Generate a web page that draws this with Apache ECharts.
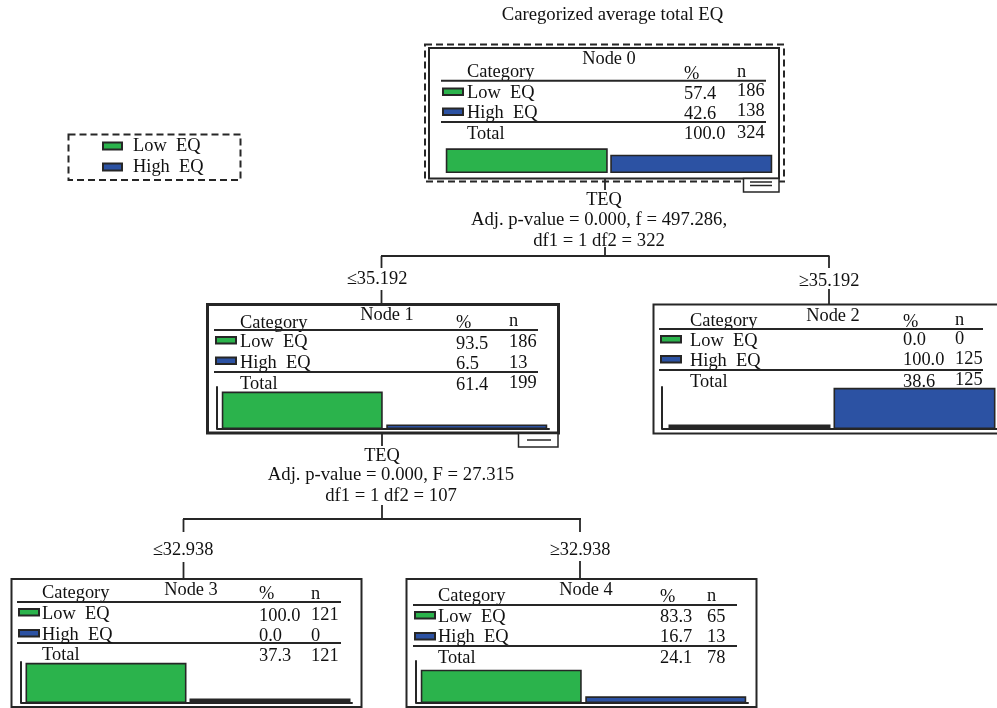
<!DOCTYPE html>
<html><head><meta charset="utf-8">
<style>html,body{margin:0;padding:0;background:#fff}#c{width:997px;height:708px}</style>
<script src="https://cdn.jsdelivr.net/npm/echarts@6/dist/echarts.min.js"></script>
</head><body><div id="c"></div>
<script>
// ---- data ----
const chartTitle = 'Caregorized average total EQ';
const categories = ['Low  EQ', 'High  EQ'];
const nodeNames = ['Node 0', 'Node 1', 'Node 2', 'Node 3', 'Node 4'];
const lowPct = [57.4, 93.5, 0.0, 100.0, 83.3];
const highPct = [42.6, 6.5, 100.0, 0.0, 16.7];
const lowN = [186, 186, 0, 121, 65];
const highN = [138, 13, 125, 0, 13];
const totalPct = [100.0, 61.4, 38.6, 37.3, 24.1];
const totalN = [324, 199, 125, 121, 78];
const splitLabels = ['\u226435.192', '\u226535.192', '\u226432.938', '\u226532.938'];
const splitVar = ['TEQ', 'TEQ'];
const splitStatA = ['Adj. p-value = 0.000, f = 497.286,', 'Adj. p-value = 0.000, F = 27.315'];
const splitStatB = ['df1 = 1 df2 = 322', 'df1 = 1 df2 = 107'];

// ---- layout and style ----
const GREEN = '#2bb34c', BLUE = '#2c52a3', INK = '#262626', TEXT = '#111', FONT = '"Liberation Serif","Times New Roman",serif';
const FS = 18.4;
const L = [
 {box:[429,48,350,130.5],lw:2,title:[609,58],cat:467,pc:684,nn:737,swX:443,head:[71,73,71],
  line:[80.7,122,441,766],low:[92,93,90],high:[112,113,110],tot:[133,133,132],sw:[88.5,108.5],
  grid:[444.5,130,329,43],ymax:100,bw:162,axis:null},
 {box:[207.5,304.5,351,128.5],lw:3,title:[387,314],cat:240,pc:456,nn:509,swX:216,head:[322,322,320],
  line:[330,372,214,538],low:[341,343,341],high:[362,363,362],tot:[383,384,382],sw:[337,357.5],
  grid:[220,387,329,42],ymax:105,bw:161,axis:3},
 {box:[653.5,304.5,352,129],lw:2,title:[833,315],cat:690,pc:903,nn:955,swX:661,head:[320,321,319],
  line:[329,370,659,983],low:[340,339,338],high:[360,359,358],tot:[381,381,379],sw:[336,356],
  grid:[667,387,332,42],ymax:102,bw:162,axis:5},
 {box:[11.5,579,350,128],lw:2,title:[191,589],cat:42,pc:259,nn:311,swX:19,head:[592,593,593],
  line:[602,643,17,341],low:[613,615,614],high:[634,635,635],tot:[654,655,655],sw:[609,630],
  grid:[24,662,328,41],ymax:102,bw:161,axis:3},
 {box:[406.5,579,350,128],lw:2,title:[586,589],cat:438,pc:660,nn:707,swX:415,head:[595,596,595],
  line:[605,646,413,737],low:[616,616,616],high:[636,636,636],tot:[657,657,657],sw:[612,633],
  grid:[419,661,329,42],ymax:105,bw:161,axis:3}
];

function txt(text,x,y,align,size){
  return {type:'text',silent:true,style:{text:String(text),x:x,y:y+1,font:(size||FS)+'px '+FONT,fill:TEXT,
    textAlign:align||'left',textVerticalAlign:'middle',align:align||'left',verticalAlign:'middle'}};
}
function ln(x1,y1,x2,y2,w,dash){
  return {type:'line',silent:true,shape:{x1,y1,x2,y2},style:{stroke:INK,lineWidth:w||1.8,lineDash:dash||null}};
}
function rect(x,y,w,h,lw,fill,dash){
  return {type:'rect',silent:true,shape:{x:x,y:y,width:w,height:h},style:{stroke:INK,lineWidth:lw,fill:fill||'transparent',lineDash:dash||null}};
}

const g = [];
g.push(txt(chartTitle,612.5,14,'center',18.7));
L.forEach((p,i)=>{
  g.push(rect(p.box[0],p.box[1],p.box[2],p.box[3],p.lw));
  g.push(txt(nodeNames[i],p.title[0],p.title[1],'center'));
  g.push(txt('Category',p.cat,p.head[0]));
  g.push(txt('%',p.pc,p.head[1]));
  g.push(txt('n',p.nn,p.head[2]));
  g.push(ln(p.line[2],p.line[0],p.line[3],p.line[0],2));
  g.push(ln(p.line[2],p.line[1],p.line[3],p.line[1],2));
  g.push(rect(p.swX,p.sw[0],20,6.5,2,GREEN));
  g.push(rect(p.swX,p.sw[1],20,6.5,2,BLUE));
  g.push(txt(categories[0],p.cat,p.low[0]));
  g.push(txt(lowPct[i].toFixed(1),p.pc,p.low[1]));
  g.push(txt(lowN[i],p.nn,p.low[2]));
  g.push(txt(categories[1],p.cat,p.high[0]));
  g.push(txt(highPct[i].toFixed(1),p.pc,p.high[1]));
  g.push(txt(highN[i],p.nn,p.high[2]));
  g.push(txt('Total',p.cat,p.tot[0]));
  g.push(txt(totalPct[i].toFixed(1),p.pc,p.tot[1]));
  g.push(txt(totalN[i],p.nn,p.tot[2]));
  if(p.axis){ g.push(ln(p.grid[0]-p.axis,p.grid[1]+p.grid[3],p.grid[0],p.grid[1]+p.grid[3],2)); }
});
// node 0 selection frame and collapse tabs
g.push(rect(425,44.5,359,137,2,null,[7,4]));
g.push(rect(743.5,178.5,35.5,13.5,1.5,'#fff'));
g.push(ln(750,182,772,182,1.5)); g.push(ln(750,185.5,772,185.5,1.5));
g.push(rect(518.5,433.5,39.5,13.5,1.5,'#fff'));
g.push(ln(527,440,551,440,1.5));
// legend frame
g.push(rect(68.5,134.5,172,45.5,2,null,[7,4]));
// tree links
g.push(ln(605,179,605,190)); g.push(ln(605,247,605,256));
g.push(ln(381,256,829.5,256));
g.push(ln(381.5,256,381.5,268)); g.push(ln(381.5,290,381.5,304));
g.push(ln(829,256,829,268)); g.push(ln(829,289,829,304));
g.push(ln(382,433,382,446)); g.push(ln(382,505,382,519));
g.push(ln(183,519,581,519));
g.push(ln(183.5,519,183.5,532)); g.push(ln(183.5,562,183.5,579));
g.push(ln(580,519,580,532)); g.push(ln(580,561,580,579));
// split texts
g.push(txt(splitVar[0],604,199,'center'));
g.push(txt(splitStatA[0],599,219,'center',18.7));
g.push(txt(splitStatB[0],599,240,'center',18.7));
g.push(txt(splitVar[1],382,455,'center'));
g.push(txt(splitStatA[1],391,474,'center',18.7));
g.push(txt(splitStatB[1],391,495,'center',18.7));
g.push(txt(splitLabels[0],377,278,'center'));
g.push(txt(splitLabels[1],829,280,'center'));
g.push(txt(splitLabels[2],183,549,'center'));
g.push(txt(splitLabels[3],580,549,'center'));

const barStyle = c => ({color:c,borderColor:INK,borderWidth:1.6});
const barDatum = v => v === 0 ? {value:v,itemStyle:{color:INK}} : v;
const grid=[],xAxis=[],yAxis=[],series=[];
L.forEach((p,i)=>{
  grid.push({left:p.grid[0],top:p.grid[1],width:p.grid[2],height:p.grid[3],containLabel:false});
  xAxis.push({type:'category',gridIndex:i,data:categories,show:!!p.axis,
    axisLine:{show:!!p.axis,lineStyle:{color:INK,width:2}},axisTick:{show:false},axisLabel:{show:false},splitLine:{show:false}});
  yAxis.push({type:'value',gridIndex:i,min:0,max:p.ymax,show:!!p.axis,offset:p.axis||0,
    axisLine:{show:!!p.axis,lineStyle:{color:INK,width:2}},axisTick:{show:false},axisLabel:{show:false},splitLine:{show:false}});
  series.push({type:'bar',name:'Low EQ',xAxisIndex:i,yAxisIndex:i,barWidth:p.bw,barGap:'-100%',barMinHeight:4.5,silent:true,z:3,
    itemStyle:barStyle(GREEN),data:[barDatum(lowPct[i]),'-']});
  series.push({type:'bar',name:'High EQ',xAxisIndex:i,yAxisIndex:i,barWidth:p.bw,barGap:'-100%',barMinHeight:4.5,silent:true,z:3,
    itemStyle:barStyle(BLUE),data:['-',barDatum(highPct[i])]});
});
const chart = echarts.init(document.getElementById('c'));
chart.setOption({
  animation:false,backgroundColor:'#fff',
  legend:{orient:'vertical',left:102,top:137,padding:0,selectedMode:false,itemWidth:19,itemHeight:7,itemGap:3,icon:'rect',
    data:['Low EQ','High EQ'],formatter:n=>n.replace(' ','  '),
    textStyle:{fontFamily:FONT,fontSize:FS,color:TEXT,padding:[0,0,0,6],lineHeight:18}},
  grid,xAxis,yAxis,series,graphic:{elements:g}
});
</script></body></html>
